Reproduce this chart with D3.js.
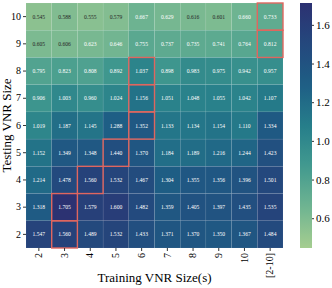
<!DOCTYPE html>
<html><head><meta charset="utf-8">
<script src="https://cdn.jsdelivr.net/npm/d3@7"></script>
<style>body{margin:0;background:#fff;} svg{display:block;} text{font-family:"Liberation Serif","DejaVu Serif",serif;}</style>
</head><body><svg id="c" width="332" height="288"></svg>
<script>
const trainLabels = ["2","3","4","5","6","7","8","9","10","[2-10]"];
const testLabels = ["10","9","8","7","6","5","4","3","2"];
const row10 = [0.545,0.588,0.555,0.579,0.667,0.629,0.616,0.601,0.660,0.733];
const row9  = [0.605,0.606,0.623,0.646,0.755,0.737,0.735,0.741,0.764,0.812];
const row8  = [0.795,0.823,0.808,0.892,1.037,0.898,0.983,0.975,0.942,0.957];
const row7  = [0.906,1.003,0.960,1.024,1.156,1.051,1.048,1.055,1.042,1.107];
const row6  = [1.019,1.187,1.145,1.288,1.352,1.133,1.134,1.154,1.110,1.334];
const row5  = [1.152,1.349,1.348,1.440,1.370,1.184,1.189,1.216,1.244,1.423];
const row4  = [1.214,1.478,1.560,1.532,1.467,1.304,1.355,1.356,1.396,1.501];
const row3  = [1.318,1.705,1.579,1.600,1.482,1.359,1.405,1.397,1.435,1.535];
const row2  = [1.547,1.560,1.489,1.532,1.433,1.371,1.370,1.350,1.367,1.484];
const rows = [row10,row9,row8,row7,row6,row5,row4,row3,row2];
const cbarTicks = [0.6,0.8,1.0,1.2,1.4,1.6];
const colorDomain = [0.446,1.713];

// crest-like colormap
const crestStops = ["#a5cd90","#6fb491","#429a8f","#267e8a","#1e5e85","#24487d","#2c3172"];
const crest = d3.scaleLinear().domain(crestStops.map((d,i)=>i/(crestStops.length-1))).range(crestStops).interpolate(d3.interpolateRgb);
const norm = d3.scaleLinear().domain(colorDomain).clamp(true);
const color = v => crest(norm(v));

const svg = d3.select("#c");
const L=26,R=283,T=3,B=248;
const x = d3.scaleBand().domain(trainLabels).range([L,R]);
const y = d3.scaleBand().domain(testLabels).range([T,B]);

const cells=[];
rows.forEach((r,i)=>r.forEach((v,j)=>cells.push({row:testLabels[i],col:trainLabels[j],v})));

svg.append("g").selectAll("rect").data(cells).join("rect")
  .attr("x",d=>x(d.col)).attr("y",d=>y(d.row))
  .attr("width",x.bandwidth()).attr("height",y.bandwidth())
  .attr("fill",d=>color(d.v))
  .attr("stroke","rgba(255,255,255,0.12)").attr("stroke-width",0.5);

function lum(c){const o=d3.rgb(c);const f=u=>{u/=255;return u<=0.03928?u/12.92:Math.pow((u+0.055)/1.055,2.4)};return 0.2126*f(o.r)+0.7152*f(o.g)+0.0722*f(o.b);}

svg.append("g").selectAll("text").data(cells).join("text")
  .attr("x",d=>x(d.col)+x.bandwidth()/2).attr("y",d=>y(d.row)+y.bandwidth()/2)
  .attr("text-anchor","middle").attr("dominant-baseline","central")
  .attr("font-size",5.6)
  .attr("fill",d=>lum(color(d.v))>0.408?"#262626":"#ffffff")
  .text(d=>d.v.toFixed(3));

// highlight row max
const hl = rows.map((r,i)=>({row:testLabels[i],col:trainLabels[r.indexOf(d3.max(r))]}));
svg.append("g").selectAll("rect").data(hl).join("rect")
  .attr("x",d=>x(d.col)).attr("y",d=>y(d.row))
  .attr("width",x.bandwidth()).attr("height",y.bandwidth())
  .attr("fill","none").attr("stroke","#e0665f").attr("stroke-width",1.4);

// axes
const xa = svg.append("g").attr("transform",`translate(0,${B})`).call(d3.axisBottom(x).tickSize(3).tickPadding(2));
xa.select(".domain").remove();
xa.selectAll("text").attr("font-size",10).attr("fill","#000")
  .attr("transform","rotate(-90)").attr("text-anchor","end").attr("dx","-0.4em").attr("dy","-0.5em")
  .attr("x",0).attr("y",0).style("font-family","Liberation Serif");
xa.selectAll("text").attr("transform",function(){return "translate(0,5) rotate(-90)";}).attr("dy","0.32em").attr("dx",0);
xa.selectAll("line").attr("stroke","#333");

const ya = svg.append("g").attr("transform",`translate(${L},0)`).call(d3.axisLeft(y).tickSize(3).tickPadding(2));
ya.select(".domain").remove();
ya.selectAll("text").attr("font-size",10).attr("fill","#000").style("font-family","Liberation Serif");
ya.selectAll("line").attr("stroke","#333");

svg.append("text").attr("x",(L+R)/2).attr("y",282).attr("text-anchor","middle").attr("font-size",13).text("Training VNR Size(s)");
svg.append("text").attr("transform",`translate(11,${(T+B)/2}) rotate(-90)`).attr("text-anchor","middle").attr("font-size",13).text("Testing VNR Size");

// colorbar
const cbX=300,cbW=12;
const cy = d3.scaleLinear().domain(colorDomain).range([B,T]);
const defs = svg.append("defs");
const grad = defs.append("linearGradient").attr("id","g").attr("x1",0).attr("x2",0).attr("y1",1).attr("y2",0);
d3.range(0,1.0001,0.05).forEach(t=>grad.append("stop").attr("offset",t).attr("stop-color",crest(t)));
svg.append("rect").attr("x",cbX).attr("y",T).attr("width",cbW).attr("height",B-T).attr("fill","url(#g)");
const ca = svg.append("g").attr("transform",`translate(${cbX+cbW},0)`).call(d3.axisRight(cy).tickValues(cbarTicks).tickFormat(d3.format(".1f")).tickSize(2).tickPadding(2));
ca.select(".domain").remove();
ca.selectAll("text").attr("font-size",11).attr("fill","#000").style("font-family","Liberation Serif");
ca.selectAll("line").attr("stroke","#333");
</script></body></html>
